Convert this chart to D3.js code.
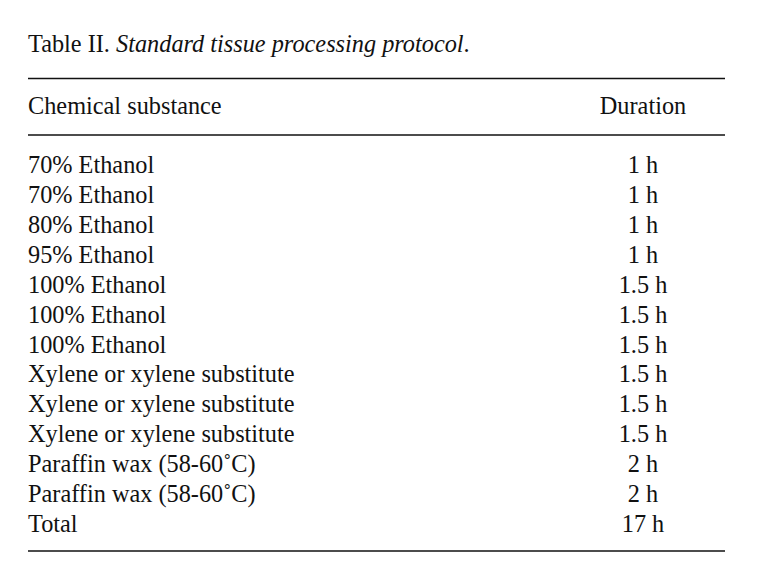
<!DOCTYPE html>
<html><head><meta charset="utf-8">
<script src="https://cdn.jsdelivr.net/npm/d3@7"></script>
<style>body{margin:0;background:#fff}svg{display:block}text{font-family:"Liberation Serif","Times New Roman",serif;fill:#111}</style>
</head><body><svg id="c" width="757" height="585"></svg>
<script>
const titleLabel = "Table II. ";
const titleItalic = "Standard tissue processing protocol";
const headers = ["Chemical substance", "Duration"];
const substances = ["70% Ethanol","70% Ethanol","80% Ethanol","95% Ethanol","100% Ethanol","100% Ethanol","100% Ethanol","Xylene or xylene substitute","Xylene or xylene substitute","Xylene or xylene substitute","Paraffin wax (58-60˚C)","Paraffin wax (58-60˚C)","Total"];
const durations = ["1 h","1 h","1 h","1 h","1.5 h","1.5 h","1.5 h","1.5 h","1.5 h","1.5 h","2 h","2 h","17 h"];

const svg = d3.select("#c");
const fs = 24.3;
const left = 28, right = 725, durX = 643;
const y = d3.scalePoint().domain(d3.range(substances.length)).range([165, 524]);

svg.append("text").attr("x", left).attr("y", 52).attr("font-size", fs)
  .call(t => { t.append("tspan").text(titleLabel); t.append("tspan").attr("font-style","italic").text(titleItalic); t.append("tspan").text("."); });

const rule = yy => svg.append("line").attr("x1", left).attr("x2", right).attr("y1", yy).attr("y2", yy).attr("stroke", "#111").attr("stroke-width", 1.6);
rule(78.5); rule(135); rule(551);

svg.append("text").attr("x", left).attr("y", 114).attr("font-size", fs).text(headers[0]);
svg.append("text").attr("x", durX).attr("y", 114).attr("font-size", fs).attr("text-anchor","middle").text(headers[1]);

const rows = svg.selectAll("g.row").data(substances.map((s,i)=>({s, d: durations[i], i}))).join("g").attr("class","row")
  .attr("transform", d => `translate(0,${y(d.i) + 8})`);
rows.append("text").attr("x", left).attr("font-size", fs).text(d => d.s);
rows.append("text").attr("x", durX).attr("font-size", fs).attr("text-anchor","middle").text(d => d.d);
</script></body></html>
